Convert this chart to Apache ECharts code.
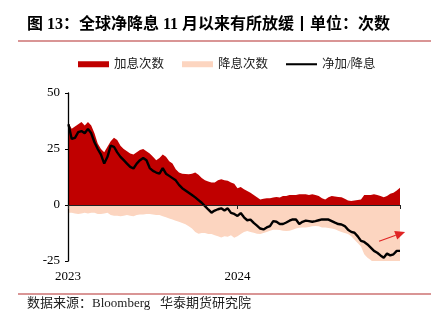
<!DOCTYPE html>
<html>
<head>
<meta charset="utf-8">
<script src="https://cdn.jsdelivr.net/npm/echarts@6/dist/echarts.min.js"></script>
<style>
  html, body { margin: 0; padding: 0; background: #fff; }
  #chart { width: 442px; height: 323px; }
</style>
</head>
<body>
<div id="chart"></div>
<script>
// Weekly observations (Mondays)
const dates = [
  '2023-01-02','2023-01-09','2023-01-16','2023-01-23','2023-01-30',
  '2023-02-06','2023-02-13','2023-02-20','2023-02-27',
  '2023-03-06','2023-03-13','2023-03-20','2023-03-27',
  '2023-04-03','2023-04-10','2023-04-17','2023-04-24',
  '2023-05-01','2023-05-08','2023-05-15','2023-05-22','2023-05-29',
  '2023-06-05','2023-06-12','2023-06-19','2023-06-26',
  '2023-07-03','2023-07-10','2023-07-17','2023-07-24','2023-07-31',
  '2023-08-07','2023-08-14','2023-08-21','2023-08-28',
  '2023-09-04','2023-09-11','2023-09-18','2023-09-25',
  '2023-10-02','2023-10-09','2023-10-16','2023-10-23','2023-10-30',
  '2023-11-06','2023-11-13','2023-11-20','2023-11-27',
  '2023-12-04','2023-12-11','2023-12-18','2023-12-25',
  '2024-01-01','2024-01-08','2024-01-15','2024-01-22','2024-01-29',
  '2024-02-05','2024-02-12','2024-02-19','2024-02-26',
  '2024-03-04','2024-03-11','2024-03-18','2024-03-25',
  '2024-04-01','2024-04-08','2024-04-15','2024-04-22','2024-04-29',
  '2024-05-06','2024-05-13','2024-05-20','2024-05-27',
  '2024-06-03','2024-06-10','2024-06-17','2024-06-24',
  '2024-07-01','2024-07-08','2024-07-15','2024-07-22','2024-07-29',
  '2024-08-05','2024-08-12','2024-08-19','2024-08-26',
  '2024-09-02','2024-09-09','2024-09-16','2024-09-23','2024-09-30',
  '2024-10-07','2024-10-14','2024-10-21','2024-10-28',
  '2024-11-04','2024-11-11','2024-11-18','2024-11-25',
  '2024-12-02','2024-12-09','2024-12-16'
];

// 加息次数
const hikes = [
  36.5, 34, 35, 36, 37, 35.5, 37, 35.5, 32, 27.5,
  25, 23.5, 26, 28.5, 30, 29, 26.5, 25, 24, 23,
  22.5, 23.5, 24.5, 25, 24, 23, 21.5, 20, 21, 22.5,
  21.5, 19.5, 18.5, 16, 14.5, 14, 13.8, 13.7, 14, 14.5,
  13.5, 12, 11, 10.5, 10, 10, 11, 11.5, 11, 10.8,
  10, 9.5, 7.5, 8, 7, 6.3, 5.5, 4.5, 3.5, 2.5,
  2.8, 3, 3, 3.4, 3.6, 3.4, 4, 4, 4.5, 4.5,
  4.5, 4.8, 4.8, 4.8, 4.5, 4.8, 4.5, 4, 3, 2.5,
  3.5, 4, 3.8, 3.6, 3.5, 2.8, 2, 1.8, 2, 2.2,
  2.5, 4.5, 4.5, 4.5, 4.8, 4.5, 4, 3.5, 4, 5,
  5.5, 6.5, 7.7
];

// 降息次数
const cuts = [
  -3.5, -3.5, -3.8, -4, -3.8, -3.5, -3.8, -3.5, -3.5, -4,
  -4, -3.8, -3.5, -4.5, -4.8, -4.8, -5, -4.8, -4.5, -4.8,
  -5, -4.5, -4.2, -4.2, -4, -4, -4.2, -4.5, -4.5, -5,
  -5.5, -6, -6.5, -7, -7.5, -8, -8.6, -9.5, -10.5, -12,
  -12.8, -12.5, -12.5, -13, -13, -13.5, -14, -14.5, -14, -14.2,
  -13.5, -14.6, -14, -13, -12, -11.6, -12, -12.4, -12.8, -13,
  -12.5, -12, -11.5, -11, -11, -11.2, -11.5, -11.6, -11.5, -11,
  -10.5, -10.2, -10, -10, -9.8, -9.5, -9.4, -9.5, -10, -10,
  -10.3, -10.5, -10.8, -11.5, -12, -12.5, -13, -14, -15.5, -17,
  -18.5, -22, -23.5, -24.5, -26, -27, -27.5, -27.5, -27, -27,
  -27, -27, -26.5
];

// 净加/降息
const net = [
  36, 29.5, 30, 32.5, 33, 32, 34, 32, 28, 25,
  22.5, 18.5, 21.5, 26.5, 26, 23.5, 21.5, 20, 18.5, 17,
  16.3, 18.5, 20, 21, 20, 16.5, 15.2, 14.5, 14, 16.5,
  14, 13, 12, 11, 9, 7.5, 6.5, 5.5, 4.5, 3.4,
  2.2, 1, -0.5, -2, -3.4, -2.5, -1.9, -1.5, -2.5, -1.5,
  -3.5, -4, -4.9, -3.6, -5.5, -6.8, -6.5, -8, -9.2, -10.5,
  -10.9, -10, -9.4, -7.2, -7.5, -8.5, -8.5, -7.8, -7, -6.4,
  -6.5, -8.5, -7.5, -7, -7.2, -7.5, -7.2, -6.8, -6.4, -6.5,
  -6.5, -7.2, -7.9, -8.5, -8.7, -9.4, -11, -12, -12.4, -14,
  -16, -16.5, -17.6, -19, -20.5, -21.3, -22.5, -23.5, -21.7, -22.5,
  -22, -20.5, -20.5
];

const yTicks = [-25, 0, 25, 50];
const yearLabels = ['2023', '2024'];
// slowdown arrow: [date, value] start and tip
const arrowFrom = ['2024-11-01', -16.2];
const arrowTo = ['2024-12-27', -12.0];

const DAY = 86400000;
const base = Date.UTC(2023, 0, 1);
function dayOf(s) {
  const p = s.split('-').map(Number);
  return Math.round((Date.UTC(p[0], p[1] - 1, p[2]) - base) / DAY);
}
const xs = dates.map(dayOf);
const pair = arr => arr.map((v, i) => [xs[i], v]);

const serif = "'Liberation Serif', 'Noto Sans CJK SC', serif";
const RED = '#c00000';
const PEACH = '#fcd5c0';

const chart = echarts.init(document.getElementById('chart'), null, { renderer: 'canvas' });

const option = {
  animation: false,
  backgroundColor: '#fff',
  title: [
    {
      text: '图 13：全球净降息 11 月以来有所放缓丨单位：次数',
      left: 22, top: 12,
      textStyle: { fontFamily: serif, fontSize: 16, fontWeight: 'bold', color: '#000' }
    },
    {
      text: '数据来源：Bloomberg   华泰期货研究院',
      left: 22, top: 292,
      textStyle: { fontFamily: serif, fontSize: 13, fontWeight: 'normal', color: '#222' }
    }
  ],
  legend: {
    left: 73, top: 53,
    itemWidth: 31, itemHeight: 6, itemGap: 18,
    textStyle: { fontFamily: serif, fontSize: 12.5, color: '#222' },
    data: [
      { name: '加息次数', icon: 'rect' },
      { name: '降息次数', icon: 'rect' },
      { name: '净加/降息', icon: 'path://M0,0H30V2H0Z' }
    ]
  },
  grid: { left: 68, right: 42, top: 93, bottom: 62 },
  xAxis: [
    {
      type: 'value', min: 0, max: xs[xs.length - 1], interval: 365,
      position: 'bottom', z: 10,
      axisLine: { onZero: true, lineStyle: { color: '#222', width: 1 } },
      axisTick: { show: true, length: 4, lineStyle: { color: '#222' } },
      axisLabel: { show: false },
      splitLine: { show: false }
    },
    {
      type: 'value', min: 0, max: xs[xs.length - 1], interval: 365,
      position: 'bottom',
      axisLine: { show: false, onZero: false },
      axisTick: { show: false },
      axisLabel: {
        show: true, margin: 9, fontFamily: serif, fontSize: 13, color: '#000',
        formatter: v => yearLabels[Math.round(v / 365)] || ''
      },
      splitLine: { show: false }
    }
  ],
  yAxis: {
    type: 'value', min: yTicks[0], max: yTicks[yTicks.length - 1], interval: 25, z: 10,
    axisLine: { show: true, lineStyle: { color: '#000', width: 1.3 } },
    axisTick: { show: true, length: 3, lineStyle: { color: '#000' } },
    axisLabel: { margin: 8, fontFamily: serif, fontSize: 13, color: '#000' },
    splitLine: { show: false }
  },
  series: [
    {
      name: '加息次数', type: 'line', xAxisIndex: 0, data: pair(hikes),
      symbol: 'none', color: RED,
      lineStyle: { width: 0 }, areaStyle: { color: RED, opacity: 1 }, z: 2
    },
    {
      name: '降息次数', type: 'line', xAxisIndex: 0, data: pair(cuts),
      symbol: 'none', color: PEACH,
      lineStyle: { width: 0 }, areaStyle: { color: PEACH, opacity: 1 }, z: 2
    },
    {
      name: '净加/降息', type: 'line', xAxisIndex: 0, data: pair(net),
      symbol: 'none', color: '#000',
      lineStyle: { width: 2.4, color: '#000' }, z: 5
    }
  ],
  graphic: [
    { type: 'line', shape: { x1: 18, y1: 41, x2: 431, y2: 41 }, style: { stroke: '#cd7272', lineWidth: 1.5 } },
    { type: 'line', shape: { x1: 18, y1: 294, x2: 431, y2: 294 }, style: { stroke: '#cd7272', lineWidth: 1.5 } }
  ]
};
chart.setOption(option);

// Arrow marking the recent slowdown, placed from data coordinates
const p0 = chart.convertToPixel({ xAxisIndex: 0, yAxisIndex: 0 }, [dayOf(arrowFrom[0]), arrowFrom[1]]);
const p1 = chart.convertToPixel({ xAxisIndex: 0, yAxisIndex: 0 }, [dayOf(arrowTo[0]), arrowTo[1]]);
const dx = p1[0] - p0[0], dy = p1[1] - p0[1];
const len = Math.sqrt(dx * dx + dy * dy);
const ux = dx / len, uy = dy / len;
const headLen = 10, headHalf = 4.5;
const bx = p1[0] - ux * headLen, by = p1[1] - uy * headLen;
chart.setOption({
  graphic: option.graphic.concat([
    { type: 'line', z: 20, shape: { x1: p0[0], y1: p0[1], x2: bx, y2: by }, style: { stroke: '#e02424', lineWidth: 1.2 } },
    {
      type: 'polygon', z: 20,
      shape: { points: [[p1[0], p1[1]], [bx - uy * headHalf, by + ux * headHalf], [bx + uy * headHalf, by - ux * headHalf]] },
      style: { fill: '#e02424' }
    }
  ])
});
</script>
</body>
</html>
